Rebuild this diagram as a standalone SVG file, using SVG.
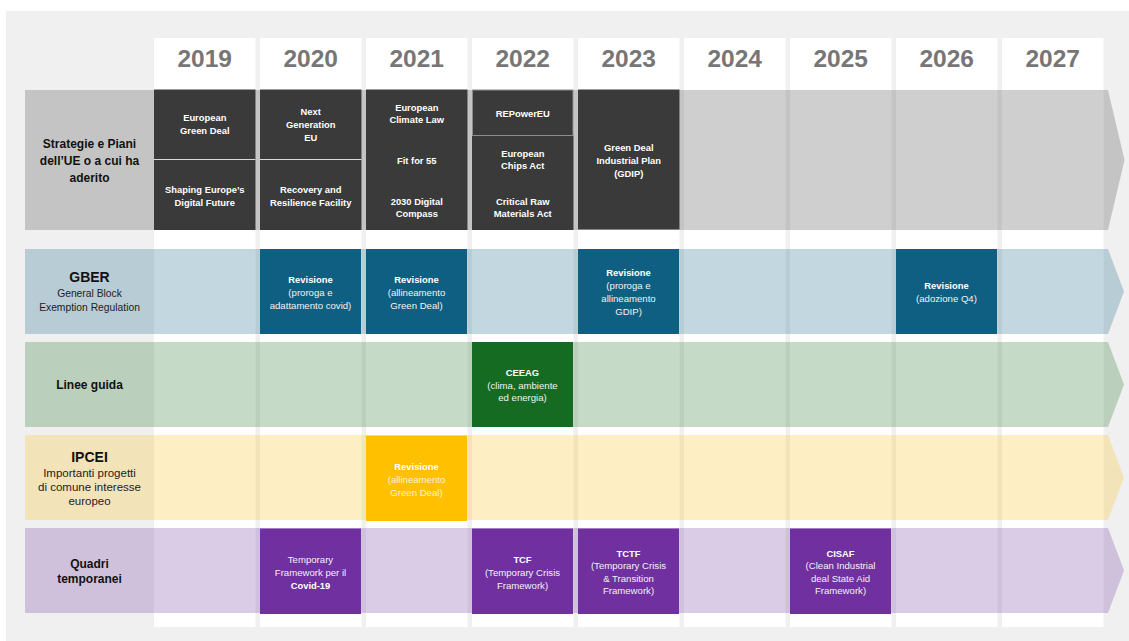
<svg xmlns="http://www.w3.org/2000/svg" width="1129" height="641" viewBox="0 0 1129 641">
<style>
text{font-family:"Liberation Sans",Arial,sans-serif;text-anchor:middle}
.yr{font-size:24.5px;font-weight:bold;fill:#767676}
.lb{font-size:12px;font-weight:bold;fill:#111}
.lr{font-size:10.3px;fill:#222}
.bb{font-size:9.4px;font-weight:bold;fill:#fff}
.br{font-size:9.6px;fill:#f2f2f2}
.col{fill:#fff}
.dark{fill:#3a3a3a}
.blue{fill:#0f5f83}
.green{fill:#156b22}
.yel{fill:#ffc000}
.pur{fill:#7030a0}
</style>
<rect x="0" y="0" width="1129" height="641" fill="#fff"/>
<rect x="6" y="11" width="1123" height="630" fill="#f0f0f0"/>
<g id="columns">
<rect class="col" x="154" y="38" width="101.5" height="589"/>
<rect class="col" x="260" y="38" width="101.5" height="589"/>
<rect class="col" x="366" y="38" width="101.5" height="589"/>
<rect class="col" x="472" y="38" width="101.5" height="589"/>
<rect class="col" x="578" y="38" width="101.5" height="589"/>
<rect class="col" x="684" y="38" width="101.5" height="589"/>
<rect class="col" x="790" y="38" width="101.5" height="589"/>
<rect class="col" x="896" y="38" width="101.5" height="589"/>
<rect class="col" x="1002" y="38" width="101.5" height="589"/>
</g>
<g id="years">
<text class="yr" x="204.75" y="67">2019</text>
<text class="yr" x="310.75" y="67">2020</text>
<text class="yr" x="416.75" y="67">2021</text>
<text class="yr" x="522.75" y="67">2022</text>
<text class="yr" x="628.75" y="67">2023</text>
<text class="yr" x="734.75" y="67">2024</text>
<text class="yr" x="840.75" y="67">2025</text>
<text class="yr" x="946.75" y="67">2026</text>
<text class="yr" x="1052.75" y="67">2027</text>
</g>
<g id="bands">
<path d="M25,90H1108L1124.5,160L1108,230H25Z" fill="#5f5f5f" fill-opacity="0.3"/>
<path d="M25,249H1108L1124,291.5L1108,334H25Z" fill="#377a98" fill-opacity="0.3"/>
<path d="M25,342H1108L1124,384.5L1108,427H25Z" fill="#3e8444" fill-opacity="0.3"/>
<path d="M25,435H1108L1124,477.5L1108,520H25Z" fill="#f8c63a" fill-opacity="0.3"/>
<path d="M25,528H1108L1124,570.5L1108,613H25Z" fill="#8452ac" fill-opacity="0.3"/>
</g>
<g id="row-strategie">
<text class="lb" x="89.5" y="147.5">Strategie e Piani</text>
<text class="lb" x="89.5" y="164.5">dell’UE o a cui ha</text>
<text class="lb" x="89.5" y="181.5">aderito</text>
</g>
<g id="box-2019-strategie">
<rect class="dark" x="154" y="89.5" width="101.5" height="140.5"/>
<line x1="154" y1="159.5" x2="255.5" y2="159.5" stroke="#d9d9d9" stroke-width="1"/>
<text class="bb" x="204.75" y="121">European</text>
<text class="bb" x="204.75" y="134">Green Deal</text>
<text class="bb" x="204.75" y="192.5">Shaping Europe’s</text>
<text class="bb" x="204.75" y="205.5">Digital Future</text>
</g>
<g id="box-2020-strategie">
<rect class="dark" x="260" y="89.5" width="101.5" height="140.5"/>
<line x1="260" y1="159.5" x2="361.5" y2="159.5" stroke="#d9d9d9" stroke-width="1"/>
<text class="bb" x="310.75" y="114.5">Next</text>
<text class="bb" x="310.75" y="127.5">Generation</text>
<text class="bb" x="310.75" y="140.5">EU</text>
<text class="bb" x="310.75" y="192.5">Recovery and</text>
<text class="bb" x="310.75" y="205.5">Resilience Facility</text>
</g>
<g id="box-2021-strategie">
<rect class="dark" x="366" y="89.5" width="101.5" height="140.5"/>
<text class="bb" x="416.75" y="110.5">European</text>
<text class="bb" x="416.75" y="123">Climate Law</text>
<text class="bb" x="416.75" y="163.5">Fit for 55</text>
<text class="bb" x="416.75" y="204.5">2030 Digital</text>
<text class="bb" x="416.75" y="217">Compass</text>
</g>
<g id="box-2022-strategie">
<rect class="dark" x="472" y="135.5" width="101.5" height="94.5"/>
<rect class="dark" x="472.5" y="90" width="100.5" height="45.5" stroke="#8c8c8c" stroke-width="1"/>
<text class="bb" x="522.75" y="116.5">REPowerEU</text>
<text class="bb" x="522.75" y="156.5">European</text>
<text class="bb" x="522.75" y="168.5">Chips Act</text>
<text class="bb" x="522.75" y="204.5">Critical Raw</text>
<text class="bb" x="522.75" y="217">Materials Act</text>
</g>
<g id="box-2023-strategie">
<rect class="dark" x="578" y="89.5" width="101.5" height="140"/>
<text class="bb" x="628.75" y="150.5">Green Deal</text>
<text class="bb" x="628.75" y="163.5">Industrial Plan</text>
<text class="bb" x="628.75" y="176.5">(GDIP)</text>
</g>
<g id="row-gber">
<text class="lb" x="89.5" y="282" style="font-size:14px">GBER</text>
<text class="lr" x="89.5" y="296.5">General Block</text>
<text class="lr" x="89.5" y="310.5">Exemption Regulation</text>
</g>
<g id="box-2020-gber">
<rect class="blue" x="260" y="249" width="101" height="85"/>
<text class="bb" x="310.5" y="282.5">Revisione</text>
<text class="br" x="310.5" y="295.5">(proroga e</text>
<text class="br" x="310.5" y="308.5">adattamento covid)</text>
</g>
<g id="box-2021-gber">
<rect class="blue" x="366" y="249" width="101" height="85"/>
<text class="bb" x="416.5" y="282.5">Revisione</text>
<text class="br" x="416.5" y="295.5">(allineamento</text>
<text class="br" x="416.5" y="308.5">Green Deal)</text>
</g>
<g id="box-2023-gber">
<rect class="blue" x="578" y="249" width="101" height="85"/>
<text class="bb" x="628.5" y="275.5">Revisione</text>
<text class="br" x="628.5" y="288.5">(proroga e</text>
<text class="br" x="628.5" y="301.5">allineamento</text>
<text class="br" x="628.5" y="314.5">GDIP)</text>
</g>
<g id="box-2026-gber">
<rect class="blue" x="896" y="249" width="101" height="85"/>
<text class="bb" x="946.5" y="288.5">Revisione</text>
<text class="br" x="946.5" y="301.5">(adozione Q4)</text>
</g>
<g id="row-linee">
<text class="lb" x="89.5" y="388.5">Linee guida</text>
</g>
<g id="box-2022-linee">
<rect class="green" x="472" y="342" width="101" height="85"/>
<text class="bb" x="522.5" y="375.5">CEEAG</text>
<text class="br" x="522.5" y="388.5">(clima, ambiente</text>
<text class="br" x="522.5" y="401">ed energia)</text>
</g>
<g id="row-ipcei">
<text class="lb" x="89.5" y="462" style="font-size:14px">IPCEI</text>
<text class="lr" x="89.5" y="476.5" style="font-size:11.5px">Importanti progetti</text>
<text class="lr" x="89.5" y="490.5" style="font-size:11.5px">di comune interesse</text>
<text class="lr" x="89.5" y="504.5" style="font-size:11.5px">europeo</text>
</g>
<g id="box-2021-ipcei">
<rect class="yel" x="366" y="435.5" width="101" height="85.5"/>
<text class="bb" x="416.5" y="469.5">Revisione</text>
<text class="br" x="416.5" y="482.5" style="fill:#fff3cf">(allineamento</text>
<text class="br" x="416.5" y="495.5" style="fill:#fff3cf">Green Deal)</text>
</g>
<g id="row-quadri">
<text class="lb" x="89.5" y="567.5">Quadri</text>
<text class="lb" x="89.5" y="582.5">temporanei</text>
</g>
<g id="box-2020-quadri">
<rect class="pur" x="260" y="528.5" width="101" height="85.5"/>
<text class="br" x="310.5" y="562.5">Temporary</text>
<text class="br" x="310.5" y="575.5">Framework per il</text>
<text class="bb" x="310.5" y="588.5">Covid-19</text>
</g>
<g id="box-2022-quadri">
<rect class="pur" x="472" y="528.5" width="101" height="85.5"/>
<text class="bb" x="522.5" y="562.5">TCF</text>
<text class="br" x="522.5" y="575.5">(Temporary Crisis</text>
<text class="br" x="522.5" y="588.5">Framework)</text>
</g>
<g id="box-2023-quadri">
<rect class="pur" x="578" y="528.5" width="101" height="85.5"/>
<text class="bb" x="628.5" y="556.5">TCTF</text>
<text class="br" x="628.5" y="569">(Temporary Crisis</text>
<text class="br" x="628.5" y="581.5">&amp; Transition</text>
<text class="br" x="628.5" y="594">Framework)</text>
</g>
<g id="box-2025-quadri">
<rect class="pur" x="790" y="528.5" width="101" height="85.5"/>
<text class="bb" x="840.5" y="556.5">CISAF</text>
<text class="br" x="840.5" y="569">(Clean Industrial</text>
<text class="br" x="840.5" y="581.5">deal State Aid</text>
<text class="br" x="840.5" y="594">Framework)</text>
</g>
<g id="connectors"></g>
</svg>
